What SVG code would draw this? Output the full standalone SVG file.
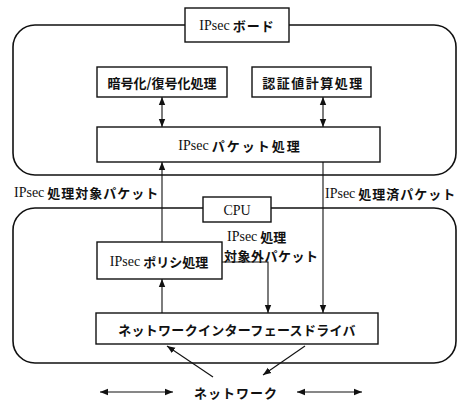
<svg xmlns="http://www.w3.org/2000/svg" width="457" height="403" viewBox="0 0 457 403">
<defs>
<style>
.box{fill:#fff;stroke:#111;stroke-width:1.4}
.grp{fill:none;stroke:#111;stroke-width:1.6}
.ln{fill:none;stroke:#111;stroke-width:1.1}
text{font-family:"Noto Sans CJK JP","Liberation Sans",sans-serif;font-weight:bold;font-size:13px;fill:#111;dominant-baseline:central}
.c{text-anchor:middle}
.lat{font-family:"Liberation Serif",serif;font-weight:normal;font-size:14px;letter-spacing:0}
.sp{letter-spacing:1px}
</style>
<marker id="ah" viewBox="0 0 10 10" refX="10" refY="5" markerWidth="8" markerHeight="8" markerUnits="userSpaceOnUse" orient="auto-start-reverse">
<path d="M0,1 L10,5 L0,9 z" fill="#111"/>
</marker>
</defs>
<rect width="457" height="403" fill="#fff"/>
<g id="board">
<rect class="grp" x="13" y="25" width="443" height="150" rx="22"/>
<rect class="box" x="185" y="8" width="104" height="34"/>
<text class="c" x="237" y="25"><tspan class="lat">IPsec</tspan> <tspan class="sp">ボード</tspan></text>
</g>
<g id="cpu">
<rect class="grp" x="13" y="208" width="443" height="155" rx="22"/>
<rect class="box" x="203" y="197" width="68" height="25"/>
<text class="c" x="237" y="209.5"><tspan class="lat">CPU</tspan></text>
</g>
<g id="enc">
<rect class="box" x="97" y="67" width="130" height="30"/>
<text class="c" x="162" y="82">暗号化/復号化処理</text>
</g>
<g id="auth">
<rect class="box" x="252" y="67" width="119" height="30"/>
<text class="c" x="313" y="82" letter-spacing="1.5">認証値計算処理</text>
</g>
<g id="pkt">
<rect class="box" x="97" y="127" width="283" height="35"/>
<text class="c" x="240" y="145"><tspan class="lat">IPsec</tspan>  <tspan letter-spacing="2">パケット処理</tspan></text>
</g>
<g id="policy">
<rect class="box" x="97" y="242" width="125" height="37"/>
<text class="c" x="159" y="261"><tspan class="lat">IPsec</tspan> ポリシ処理</text>
</g>
<g id="driver">
<rect class="box" x="96" y="313" width="282" height="31"/>
<text class="c" x="237" y="329" letter-spacing="0.3">ネットワークインターフェースドライバ</text>
</g>
<g id="network">
<text class="c" x="236" y="392" letter-spacing="1">ネットワーク</text>
</g>
<g id="connectors">
<line class="ln" x1="162" y1="97" x2="162" y2="127" marker-start="url(#ah)" marker-end="url(#ah)"/>
<line class="ln" x1="323" y1="97" x2="323" y2="127" marker-start="url(#ah)" marker-end="url(#ah)"/>
<line class="ln" x1="162" y1="242" x2="162" y2="162" marker-end="url(#ah)"/>
<line class="ln" x1="323" y1="162" x2="323" y2="313" marker-end="url(#ah)"/>
<line class="ln" x1="162" y1="313" x2="162" y2="279" marker-end="url(#ah)"/>
<polyline class="ln" points="222,262 268,262 268,313" marker-end="url(#ah)"/>
<line class="ln" x1="213" y1="377" x2="167" y2="346" marker-end="url(#ah)"/>
<line class="ln" x1="305" y1="346" x2="263" y2="375" marker-end="url(#ah)"/>
<line class="ln" x1="100" y1="392" x2="173" y2="392" marker-start="url(#ah)" marker-end="url(#ah)"/>
<line class="ln" x1="297" y1="392" x2="362" y2="392" marker-start="url(#ah)" marker-end="url(#ah)"/>
<text x="14" y="192"><tspan class="lat">IPsec</tspan> <tspan class="sp">処理対象パケット</tspan></text>
<text x="325" y="193"><tspan class="lat">IPsec</tspan> <tspan class="sp">処理済パケット</tspan></text>
<text x="227" y="236" font-size="12.5"><tspan class="lat">IPsec</tspan> 処理</text>
<text x="224" y="255" font-size="12.5" letter-spacing="0.5">対象外パケット</text>
</g>
</svg>
